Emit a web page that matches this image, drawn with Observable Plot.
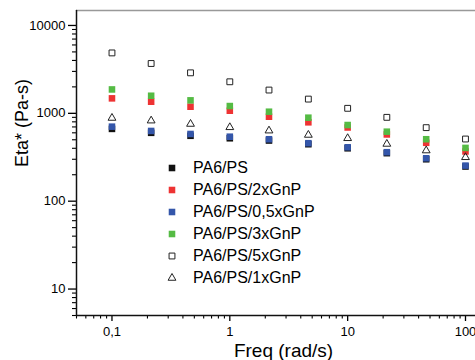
<!DOCTYPE html>
<html>
<head>
<meta charset="utf-8">
<script src="https://cdn.jsdelivr.net/npm/d3@7"></script>
<script src="https://cdn.jsdelivr.net/npm/@observablehq/plot@0.6"></script>
<style>
  html, body { margin: 0; padding: 0; background: #fff; }
  body { width: 475px; height: 360px; overflow: hidden; position: relative; font-family: "Liberation Sans", Arial, sans-serif; }
  #chart svg { max-width: none !important; display: block; }
  #legend { position: absolute; left: 166px; top: 157px; font-size: 16px; color: #000; }
  .row { display: flex; align-items: center; height: 22px; }
  .row svg { width: 12px; height: 12px; margin-right: 15px; flex: none; }
  .axisline { position: absolute; background: #111; pointer-events: none; }
</style>
</head>
<body>
<div id="chart"></div>
<div id="legend"></div>
<div class="axisline" style="left:76px; top:10px; width:1px; height:306px;"></div>
<div class="axisline" style="left:76px; top:315px; width:400px; height:1px;"></div>
<script>
// ---- data ----
const freq   = [0.1, 0.215, 0.464, 1, 2.15, 4.64, 10, 21.5, 46.4, 100];
const pa6ps  = [665, 600, 555, 520, 490, 445, 400, 352, 300, 248];
const gnp2   = [1480, 1355, 1189, 1070, 915, 790, 690, 575, 462, 368];
const gnp05  = [705, 630, 582, 542, 507, 457, 411, 361, 308, 254];
const gnp3   = [1870, 1585, 1405, 1210, 1043, 892, 736, 618, 507, 404];
const gnp5   = [4870, 3690, 2890, 2285, 1840, 1452, 1140, 900, 687, 510];
const gnp1   = [885, 825, 756, 693, 635, 567, 520, 448, 377, 316];

const seriesNames = ["PA6/PS", "PA6/PS/2xGnP", "PA6/PS/0,5xGnP", "PA6/PS/3xGnP", "PA6/PS/5xGnP", "PA6/PS/1xGnP"];
const seriesValues = [pa6ps, gnp2, gnp05, gnp3, gnp5, gnp1];

const xMajor = [0.1, 1, 10, 100];
const xMajorLabels = ["0,1", "1", "10", "100"];
const yMajor = [10, 100, 1000, 10000];
const yMajorLabels = ["10", "100", "1000", "10000"];
const xDomain = [0.05, 163];
const yDomain = [5, 14800];

// ---- styles ----
const styles = [
  {symbol: "square", fill: "#111111", stroke: "none"},
  {symbol: "square", fill: "#ee3333", stroke: "none"},
  {symbol: "square", fill: "#3456aa", stroke: "none"},
  {symbol: "square", fill: "#55bb44", stroke: "none"},
  {symbol: "square", fill: "none", stroke: "#222"},
  {symbol: "triangle", fill: "none", stroke: "#222"}
];

const minor = (lo, hi) => {
  const out = [];
  for (let e = Math.floor(Math.log10(lo)); e <= Math.ceil(Math.log10(hi)); e++) {
    for (let k = 2; k <= 9; k++) {
      const v = k * Math.pow(10, e);
      if (v >= lo && v <= hi) out.push(v);
    }
  }
  return out;
};
const xMinor = minor(xDomain[0], xDomain[1]);
const yMinor = minor(yDomain[0], yDomain[1]);

const rows = [];
seriesNames.forEach((name, i) => {
  freq.forEach((f, j) => rows.push({series: name, idx: i, freq: f, eta: seriesValues[i][j]}));
});

const dotMarks = styles.map((s, i) => Plot.dot(rows.filter(r => r.idx === i), {
  x: "freq", y: "eta", symbol: s.symbol,
  r: s.symbol === "triangle" ? 2.9 : (s.fill === "none" ? 3.3 : 3.7),
  fill: s.fill, stroke: s.stroke, strokeWidth: 1
}));

const leftEdge = [[xDomain[0], yDomain[0]], [xDomain[0], yDomain[1]]];
const bottomEdge = [[xDomain[0], yDomain[0]], [xDomain[1], yDomain[0]]];
const topEdge = [[xDomain[0], yDomain[1]], [xDomain[1], yDomain[1]]];

const chart = Plot.plot({
  width: 490,
  height: 360,
  marginLeft: 76,
  marginRight: 0,
  marginTop: 10,
  marginBottom: 45,
  style: {fontFamily: "'Liberation Sans', Arial, sans-serif", fontSize: "13px", color: "#000", background: "#fff"},
  x: {type: "log", domain: xDomain},
  y: {type: "log", domain: yDomain},
  marks: [
    Plot.axisY({ticks: yMajor, tickSize: 8, tickPadding: 3, tickFormat: d => yMajorLabels[yMajor.indexOf(d)], label: null, strokeWidth: 1.3, fontSize: 13}),
    Plot.axisY({ticks: yMinor, tickSize: 4, tickFormat: () => "", label: null, strokeWidth: 1.1}),
    Plot.axisX({ticks: xMajor, tickSize: 6, tickPadding: 5, tickFormat: d => xMajorLabels[xMajor.indexOf(d)], label: null, strokeWidth: 1.3, fontSize: 13}),
    Plot.axisX({ticks: xMinor, tickSize: 3.5, tickFormat: () => "", label: null, strokeWidth: 1.1}),
    ...dotMarks,
    Plot.text(["Freq (rad/s)"], {frameAnchor: "bottom", dy: 41, fontSize: 19, fill: "#000"}),
    Plot.text(["Eta* (Pa-s)"], {frameAnchor: "left", dx: -54, dy: 4, rotate: -90, fontSize: 18, fill: "#000"}),
    Plot.line(topEdge, {x: d => d[0], y: d => d[1], stroke: "#999999", strokeWidth: 1.5}),
    Plot.line(leftEdge, {x: d => d[0], y: d => d[1], stroke: "#151515", strokeWidth: 1.5}),
    Plot.line(bottomEdge, {x: d => d[0], y: d => d[1], stroke: "#151515", strokeWidth: 1.5})
  ]
});
document.getElementById("chart").appendChild(chart);

// ---- legend ----
const legend = d3.select("#legend");
seriesNames.forEach((name, i) => {
  const st = styles[i];
  const row = legend.append("div").attr("class", "row");
  const svg = row.append("svg").attr("viewBox", "-6 -6 12 12");
  const size = st.symbol === "triangle" ? Math.PI * 2.9 * 2.9 : Math.PI * (st.fill === "none" ? 3.3 : 3.7) ** 2;
  svg.append("path")
    .attr("d", d3.symbol(st.symbol === "triangle" ? d3.symbolTriangle : d3.symbolSquare, size)())
    .attr("fill", st.fill).attr("stroke", st.stroke).attr("stroke-width", 1);
  row.append("span").text(name);
});
</script>
</body>
</html>
